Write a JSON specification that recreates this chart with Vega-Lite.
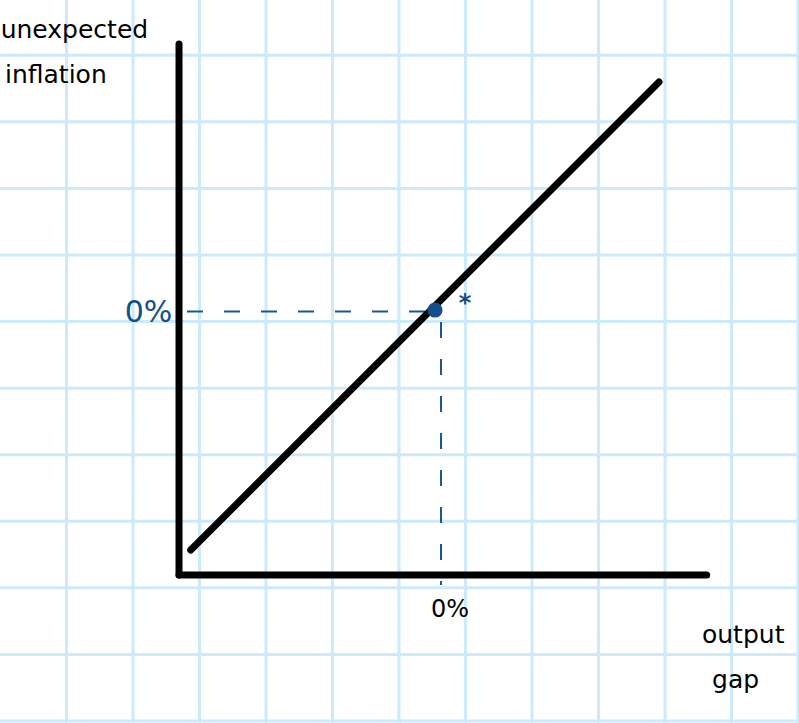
{
  "$schema": "https://vega.github.io/schema/vega-lite/v6.json",
  "width": 799,
  "height": 723,
  "autosize": {"type": "none"},
  "padding": 0,
  "background": "white",
  "config": {
    "view": {"stroke": null},
    "axis": {"disable": true},
    "text": {"font": "DejaVu Sans"}
  },
  "datasets": {
    "grid": [
      {"dir": "v", "pos": 1}, {"dir": "v", "pos": 2}, {"dir": "v", "pos": 3},
      {"dir": "v", "pos": 4}, {"dir": "v", "pos": 5}, {"dir": "v", "pos": 6},
      {"dir": "v", "pos": 7}, {"dir": "v", "pos": 8}, {"dir": "v", "pos": 9},
      {"dir": "v", "pos": 10}, {"dir": "v", "pos": 11}, {"dir": "v", "pos": 12},
      {"dir": "h", "pos": 0}, {"dir": "h", "pos": 1}, {"dir": "h", "pos": 2},
      {"dir": "h", "pos": 3}, {"dir": "h", "pos": 4}, {"dir": "h", "pos": 5},
      {"dir": "h", "pos": 6}, {"dir": "h", "pos": 7}, {"dir": "h", "pos": 8},
      {"dir": "h", "pos": 9}, {"dir": "h", "pos": 10}
    ],
    "segments": [
      {"name": "y axis", "kind": "solid", "x": 2.692, "y": 10.17, "x2": 2.692, "y2": 2.193},
      {"name": "x axis", "kind": "solid", "x": 2.692, "y": 2.193, "x2": 10.627, "y2": 2.193},
      {"name": "curve", "kind": "solid", "x": 2.868, "y": 2.568, "x2": 9.91, "y2": 9.598},
      {"name": "guide h", "kind": "dash", "x": 2.812, "y": 6.151, "x2": 6.391, "y2": 6.151},
      {"name": "guide v", "kind": "dash", "x": 6.632, "y": 5.993, "x2": 6.632, "y2": 2.042}
    ],
    "points": [
      {"name": "equilibrium", "x": 6.541, "y": 6.173}
    ],
    "labels": [
      {"role": "title", "text": "unexpected", "x": 0.01, "y": 10.38},
      {"role": "title", "text": "inflation", "x": 0.075, "y": 9.7},
      {"role": "title", "text": "output", "x": 10.556, "y": 1.29},
      {"role": "title", "text": "gap", "x": 10.707, "y": 0.62},
      {"role": "ytick", "text": "0%", "x": 2.59, "y": 6.128},
      {"role": "xtick", "text": "0%", "x": 6.767, "y": 1.667},
      {"role": "star", "text": "*", "x": 6.992, "y": 6.26}
    ]
  },
  "layer": [
    {
      "data": {"name": "grid"},
      "transform": [{"filter": "datum.dir === 'v'"}],
      "mark": {"type": "rule", "color": "#cdeafc", "strokeWidth": 3},
      "encoding": {
        "x": {"field": "pos", "type": "quantitative", "scale": {"domain": [0, 12.015], "nice": false, "zero": false}}
      }
    },
    {
      "data": {"name": "grid"},
      "transform": [{"filter": "datum.dir === 'h'"}],
      "mark": {"type": "rule", "color": "#cdeafc", "strokeWidth": 3},
      "encoding": {
        "y": {"field": "pos", "type": "quantitative", "scale": {"domain": [-0.03, 10.83], "nice": false, "zero": false}}
      }
    },
    {
      "data": {"name": "segments"},
      "transform": [{"filter": "datum.kind === 'dash'"}],
      "mark": {"type": "rule", "color": "#1a5690", "strokeWidth": 2, "strokeDash": [16, 21]},
      "encoding": {
        "x": {"field": "x", "type": "quantitative"},
        "y": {"field": "y", "type": "quantitative"},
        "x2": {"field": "x2"},
        "y2": {"field": "y2"}
      }
    },
    {
      "data": {"name": "segments"},
      "transform": [{"filter": "datum.kind === 'solid'"}],
      "mark": {"type": "rule", "color": "black", "strokeWidth": 7, "strokeCap": "round"},
      "encoding": {
        "x": {"field": "x", "type": "quantitative"},
        "y": {"field": "y", "type": "quantitative"},
        "x2": {"field": "x2"},
        "y2": {"field": "y2"}
      }
    },
    {
      "data": {"name": "points"},
      "mark": {"type": "point", "shape": "circle", "filled": true, "color": "#13508a", "opacity": 1, "size": 230},
      "encoding": {
        "x": {"field": "x", "type": "quantitative"},
        "y": {"field": "y", "type": "quantitative"}
      }
    },
    {
      "data": {"name": "labels"},
      "transform": [{"filter": "datum.role === 'title'"}],
      "mark": {"type": "text", "fontSize": 25, "color": "black", "baseline": "middle", "align": "left"},
      "encoding": {
        "x": {"field": "x", "type": "quantitative"},
        "y": {"field": "y", "type": "quantitative"},
        "text": {"field": "text"}
      }
    },
    {
      "data": {"name": "labels"},
      "transform": [{"filter": "datum.role === 'ytick'"}],
      "mark": {"type": "text", "fontSize": 30, "color": "#13508a", "baseline": "middle", "align": "right"},
      "encoding": {
        "x": {"field": "x", "type": "quantitative"},
        "y": {"field": "y", "type": "quantitative"},
        "text": {"field": "text"}
      }
    },
    {
      "data": {"name": "labels"},
      "transform": [{"filter": "datum.role === 'xtick'"}],
      "mark": {"type": "text", "fontSize": 24, "color": "black", "baseline": "middle", "align": "center"},
      "encoding": {
        "x": {"field": "x", "type": "quantitative"},
        "y": {"field": "y", "type": "quantitative"},
        "text": {"field": "text"}
      }
    },
    {
      "data": {"name": "labels"},
      "transform": [{"filter": "datum.role === 'star'"}],
      "mark": {"type": "text", "fontSize": 24, "fontWeight": "bold", "color": "#13508a", "baseline": "middle", "align": "center"},
      "encoding": {
        "x": {"field": "x", "type": "quantitative"},
        "y": {"field": "y", "type": "quantitative"},
        "text": {"field": "text"}
      }
    }
  ]
}
